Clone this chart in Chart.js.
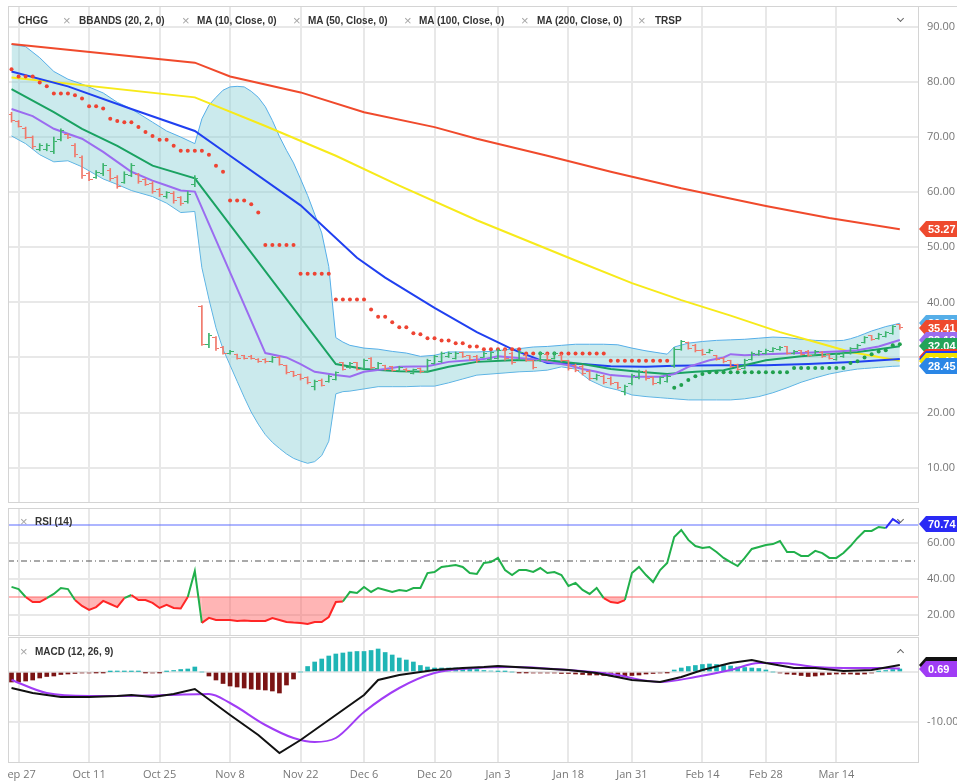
<!DOCTYPE html>
<html>
<head>
<meta charset="utf-8">
<title>CHGG</title>
<script src="https://cdn.jsdelivr.net/npm/chart.js@4.4.1/dist/chart.umd.min.js"></script>
<style>
  html, body { margin: 0; padding: 0; background: #fff; }
  body { position: relative; width: 957px; height: 782px; overflow: hidden; }
  #wrap { position: absolute; left: 7px; top: 0; width: 950px; height: 782px; overflow: hidden; }
  #wrap canvas { position: absolute; left: -7px; }
  .t { position: absolute; font: bold 10px "Liberation Sans", Arial, sans-serif; color: #333; white-space: nowrap; line-height: 12px; }
  .x { position: absolute; font: 13px "Liberation Sans", Arial, sans-serif; color: #a5a5a5; line-height: 12px; }
  .chev { position: absolute; width: 4px; height: 4px; border-right: 1.5px solid #666; border-bottom: 1.5px solid #666; }
</style>
</head>
<body>
<div id="wrap">
  <canvas id="price" width="957" height="508" style="top:0"></canvas>
  <canvas id="rsi" width="957" height="130" style="top:507px"></canvas>
  <canvas id="macd" width="957" height="146" style="top:636px"></canvas>
</div>

<div class="t" style="left:18px;top:15px">CHGG</div>
<div class="x" style="left:63px;top:15px">×</div>
<div class="t" style="left:79px;top:15px">BBANDS (20, 2, 0)</div>
<div class="x" style="left:182px;top:15px">×</div>
<div class="t" style="left:197px;top:15px">MA (10, Close, 0)</div>
<div class="x" style="left:293px;top:15px">×</div>
<div class="t" style="left:308px;top:15px">MA (50, Close, 0)</div>
<div class="x" style="left:404px;top:15px">×</div>
<div class="t" style="left:419px;top:15px">MA (100, Close, 0)</div>
<div class="x" style="left:521px;top:15px">×</div>
<div class="t" style="left:537px;top:15px">MA (200, Close, 0)</div>
<div class="x" style="left:638px;top:15px">×</div>
<div class="t" style="left:655px;top:15px">TRSP</div>
<div class="chev" style="left:898px;top:16px;transform:rotate(45deg)"></div>

<div class="x" style="left:20px;top:516px">×</div>
<div class="t" style="left:35px;top:516px">RSI (14)</div>
<div class="chev" style="left:898px;top:517px;transform:rotate(45deg)"></div>

<div class="x" style="left:20px;top:646px">×</div>
<div class="t" style="left:35px;top:646px">MACD (12, 26, 9)</div>
<div class="chev" style="left:898px;top:650px;transform:rotate(-135deg)"></div>

<script>
// x values are trading-day indices, Sep 24 2021 = 0 ... Mar 25 2022 = 126
const X_MIN = -0.5;
const X_MAX = 128.72;
const dateIdx = [1, 11, 21, 31, 41, 50, 60, 69, 79, 88, 98, 107, 117];
const dateLbl = ['Sep 27', 'Oct 11', 'Oct 25', 'Nov 8', 'Nov 22', 'Dec 6', 'Dec 20', 'Jan 3', 'Jan 18', 'Jan 31', 'Feb 14', 'Feb 28', 'Mar 14'];

const priceTicks = [10, 20, 30, 40, 50, 60, 70, 80, 90];
const rsiTicks = [20, 40, 60];
const macdTicks = [-10, 0];

const open = [74.0,72.8,71.6,70.0,67.8,67.8,67.4,69.5,70.5,68.5, 66.2,63.4,62.6,63.3,64.0,62.7,61.8,63.0,63.2,62.3,
  61.5,60.5,59.3,59.8,59.0,58.3,61.3,39.2,32.3,33.6, 31.8,30.8,30.5,30.3,30.2,29.7,29.6,29.3,30.0,28.5,
  27.4,26.9,26.4,24.8,25.9,25.6,26.0,29.0,28.1,29.0, 28.0,29.8,28.0,28.5,28.3,27.6,27.9,27.1,28.0,27.5,
  28.9,29.2,30.1,29.9,30.9,30.3,30.2,30.0,29.6,29.8, 31.3,30.8,29.6,30.4,29.4,29.5,30.6,29.8,30.4,29.4,
  28.6,28.4,27.5,26.1,26.6,26.2,25.4,23.9,25.2,26.3, 27.5,26.3,25.4,25.7,28.6,31.5,32.7,32.2,31.3,30.9,
  30.3,29.9,29.4,28.7,28.0,29.6,30.5,30.7,31.1,31.4, 31.9,30.7,31.2,31.1,30.4,30.9,30.5,29.6,30.1,30.7,
  31.6,32.7,33.9,33.4,33.8,34.3,35.9];
const high = [74.5,73.0,71.8,70.2,68.8,68.8,70.0,71.5,70.6,68.8, 66.6,63.7,63.9,65.2,64.3,63.0,63.7,65.2,63.4,62.5,
  61.9,60.7,60.1,60.1,59.2,60.1,63.0,39.4,34.4,33.8, 32.0,31.3,30.6,30.4,30.4,29.8,29.8,30.2,30.2,28.6,
  27.5,27.0,26.5,25.9,26.1,26.8,27.4,29.1,29.1,29.1, 29.7,30.0,29.1,28.6,28.4,28.4,28.0,27.9,28.1,29.7,
  30.4,31.0,31.0,31.0,31.0,30.4,30.4,31.0,31.0,31.5, 31.5,31.0,31.2,30.6,29.5,31.0,30.7,31.0,30.6,29.5,
  28.8,28.6,27.7,27.0,26.8,26.5,25.5,25.0,27.0,27.7, 27.7,26.5,26.5,26.8,31.8,33.1,32.8,32.4,31.5,31.5,
  30.4,30.0,29.5,28.8,29.7,31.0,31.3,31.5,31.8,32.0, 32.0,31.3,31.3,31.3,31.3,31.1,30.6,30.8,31.0,31.8,
  32.4,33.8,34.0,34.4,34.7,35.8,36.0];
const low = [72.7,71.8,69.7,67.9,67.5,67.5,67.0,69.3,69.7,66.4, 62.5,62.1,62.5,63.0,62.1,60.7,61.6,62.8,61.6,61.2,
  59.8,59.2,58.9,58.0,57.6,58.0,61.0,32.2,31.8,31.3, 30.6,30.6,29.7,29.7,29.7,29.1,29.0,29.1,28.6,27.0,
  26.5,25.9,25.2,24.1,24.8,25.5,25.9,27.7,28.0,27.7, 27.9,27.9,27.9,27.7,27.5,27.5,27.4,27.0,27.2,27.4,
  28.8,29.1,30.0,29.7,30.0,29.5,29.1,30.0,29.5,29.7, 29.5,28.8,29.5,29.3,27.9,29.3,29.5,29.7,29.3,27.7,
  27.4,26.8,25.9,25.9,25.2,25.0,24.3,23.2,25.0,26.1, 25.9,25.0,25.2,25.5,28.2,31.3,31.5,31.0,30.4,30.8,
  29.5,29.0,28.2,27.7,27.9,29.5,30.4,30.6,31.0,31.3, 30.6,30.6,30.4,30.2,30.4,30.0,29.7,29.5,30.0,30.6,
  31.5,32.6,33.1,33.3,33.7,34.2,35.1];
const close = [73.0,72.0,70.0,68.2,68.4,68.5,69.2,71.2,69.9,66.8, 63.0,62.3,63.6,64.9,62.5,61.0,63.2,64.8,62.0,61.4,
  60.2,59.5,59.9,58.4,58.0,59.6,62.5,32.4,34.0,31.6, 30.8,31.1,29.9,29.9,29.8,29.3,29.2,30.0,28.8,27.2,
  26.7,26.1,25.4,25.6,25.0,26.6,27.2,27.9,28.9,27.9, 29.5,28.1,28.9,27.9,27.7,28.2,27.6,27.8,27.4,29.5,
  30.2,30.8,30.8,30.8,30.2,29.7,29.4,30.8,30.9,31.3, 29.8,29.1,30.9,29.5,28.2,30.7,29.7,30.8,29.5,28.0,
  27.6,27.1,26.1,26.8,25.5,25.3,24.5,24.8,26.8,27.5, 26.1,25.3,26.3,26.6,31.5,32.9,31.7,31.2,30.6,31.3,
  29.7,29.2,28.4,27.9,29.5,30.8,31.1,31.3,31.6,31.8, 30.8,31.1,30.6,30.4,31.0,30.2,29.9,30.6,30.8,31.6,
  32.2,33.6,33.3,34.2,34.5,35.6,35.41];

// TRSP trailing stop dots
const trsp = [82.3,81.0,81.0,81.0,79.9,79.2,77.9,77.9,77.9,77.6, 77.0,75.6,75.6,75.2,73.3,72.9,72.7,72.7,71.8,70.9,
  70.2,69.5,69.5,68.4,67.5,67.5,67.5,67.5,66.8,64.8, 63.7,58.5,58.5,58.5,57.8,56.3,50.4,50.4,50.4,50.4,
  50.4,45.2,45.2,45.2,45.2,45.2,40.5,40.5,40.5,40.5, 40.5,38.7,37.4,37.4,36.4,35.5,35.5,34.4,34.2,33.5,
  33.5,33.1,33.1,32.6,32.6,32.0,32.0,31.5,31.5,31.5, 31.5,31.5,31.5,30.7,30.7,30.7,30.7,30.7,30.7,30.7,
  30.7,30.7,30.7,30.7,30.7,29.4,29.4,29.4,29.4,29.4, 29.4,29.4,29.4,29.4,24.5,25.0,25.9,26.6,27.0,27.3,
  27.3,27.3,27.3,27.3,27.3,27.3,27.3,27.3,27.3,27.3, 27.3,28.1,28.1,28.1,28.1,28.1,28.1,28.1,28.1,29.0,
  29.3,30.0,30.6,31.1,31.3,32.2,32.4];

// Bollinger bands (20, 2), [index, value]
const bbUpper = [[0,86.8],[2,86.4],[4,84.4],[6,81.9],[8,80.5],[10,79.6],[13,78.0],[15,76.3],[17,75.1],[20,72.7],[22,71.1],[24,70.0],[26,68.8],
  [27,73.3],[28,75.8],[29,77.2],[30,78.5],[31,79.1],[32,79.2],[33,79.1],[34,78.3],[35,77.2],[36,75.5],[37,73.0],[38,70.1],[39,67.6],
  [40,65.3],[41,62.4],[42,59.4],[43,56.0],[44,52.6],[45,46.5],[46,33.6],[47,32.8],[48,32.2],[50,31.7],[52,31.5],[54,31.1],[56,30.8],
  [58,30.2],[60,30.4],[62,31.0],[64,31.0],[66,31.0],[68,31.1],[70,31.4],[72,31.6],[74,31.9],[76,32.0],[78,32.2],[80,32.4],[82,32.4],
  [84,32.4],[86,32.3],[88,31.7],[90,31.2],[92,30.8],[93,30.6],[94,31.9],[96,32.6],[98,32.9],[100,33.1],[102,33.2],[104,33.3],[106,33.5],
  [108,33.7],[110,33.6],[112,33.3],[114,33.1],[116,33.0],[118,33.1],[119,33.4],[120,33.8],[121,34.3],[122,34.8],[123,35.2],[124,35.6],
  [125,35.9],[126,36.2]];
const bbLower = [[0,70.2],[2,68.8],[4,66.8],[6,65.5],[8,65.7],[10,64.6],[13,62.4],[15,61.4],[17,60.3],[20,59.2],[22,58.0],[24,56.3],[26,56.5],
  [27,46.3],[28,40.6],[29,35.4],[30,31.5],[31,28.6],[32,25.7],[33,22.8],[34,20.1],[35,17.9],[36,16.0],[37,14.6],[38,13.5],[39,12.5],
  [40,11.7],[41,11.2],[42,10.8],[43,11.1],[44,12.2],[45,14.8],[46,23.4],[47,23.8],[48,23.9],[50,24.3],[52,24.7],[54,24.7],[56,24.7],
  [58,24.8],[60,24.8],[62,25.4],[64,26.1],[66,26.8],[68,27.0],[70,27.2],[72,27.4],[74,27.5],[76,27.7],[78,28.3],[80,27.9],[82,25.9],
  [84,24.7],[86,24.1],[88,23.2],[90,22.9],[92,22.7],[93,22.6],[94,22.5],[96,22.3],[98,22.3],[100,22.3],[102,22.3],[104,22.5],[106,22.9],
  [108,23.6],[110,24.5],[112,25.5],[114,26.3],[116,27.0],[118,27.5],[119,27.7],[120,27.9],[121,28.0],[122,28.1],[123,28.2],[124,28.3],
  [125,28.4],[126,28.45]];
const bbMid = [[0,78.7],[6,74.5],[10,71.5],[15,68.4],[20,64.8],[26,62.5],[46,28.8],[50,27.9],[55,27.5],[59,27.4],[62,28.3],[66,29.2],
  [71,29.5],[76,29.5],[81,28.8],[85,27.9],[89,27.4],[93,27.0],[97,27.4],[101,27.7],[107,29.5],[112,30.2],[116,30.6],[120,31.0],
  [123,31.5],[126,32.04]];

// moving averages, [index, value]
const ma10 = [[0,75.1],[3,73.8],[6,71.5],[10,69.7],[13,67.3],[15,65.5],[17,63.7],[20,62.1],[22,61.2],[24,60.3],[26,60.1],[36,30.8],
  [39,30.0],[41,28.8],[43,27.4],[46,26.8],[48,26.5],[50,27.4],[53,27.9],[55,28.3],[59,28.4],[62,29.2],[65,29.5],[67,29.7],[69,30.2],
  [71,30.0],[74,29.7],[76,29.2],[79,28.6],[81,27.9],[83,27.4],[85,26.8],[88,26.5],[92,26.5],[94,27.0],[96,28.3],[99,29.5],[101,30.0],
  [102,30.6],[104,30.4],[107,30.6],[112,30.8],[117,31.1],[120,31.3],[123,32.0],[126,33.18]];
const ma50 = [[0,81.9],[8,79.2],[17,75.1],[26,71.1],[31,66.6],[41,57.6],[49,48.1],[53,44.5],[60,39.0],[66,34.6],[71,31.5],[76,29.0],
  [81,28.8],[85,28.4],[90,28.3],[94,28.5],[100,28.6],[107,28.6],[113,28.8],[120,29.2],[126,29.7]];
const ma100 = [[0,80.8],[26,77.2],[36,72.0],[46,66.6],[55,61.2],[66,54.9],[80,47.6],[88,43.5],[95,40.4],[102,37.6],[109,34.6],
  [114,32.8],[119,31.0],[126,29.4]];
const ma200 = [[0,86.9],[26,83.5],[31,81.0],[41,78.1],[50,74.5],[60,71.8],[66,69.7],[76,66.6],[85,63.7],[95,60.7],[107,57.5],
  [116,55.3],[126,53.27]];

const rsi = [35.6,34.4,30,27.2,27.2,29.4,31.7,35,34.4,28.3, 25,22.8,24.4,27.8,26.1,24.4,29.4,31.1,28.3,28.3,
  26.7,23.9,25.6,23.9,23.6,30,44.4,15.6,18.4,17.2, 17.2,17.2,16.7,16.9,16.7,16.6,16.7,18.3,17.2,16.1,
  15.8,15.6,15,16.1,16.1,18.9,27.2,27.5,32.8,32.2, 35.6,32.8,35,33.9,32.8,33.9,33.3,35,35,43.3,
  43.9,46.7,47.2,47.8,46.7,43.3,42.8,48.9,49.4,51.7, 45,42.2,45,45,43.9,46.1,43.3,43.9,42.2,36.1,
  37.8,33.9,31.7,35,29.4,27.2,26.7,28.3,43.3,46.7, 42.2,38.3,45,48.9,63.3,67.2,61.7,58.3,57.2,57.8,
  55,51.7,49.4,47.2,51.7,56.7,57.8,58.9,59.4,61.1, 55,55,52.8,52.8,55.6,54.4,51.7,51.7,54.4,58.3,
  62.8,66.7,66.7,68.9,68.3,73.3,70.74];
const rsiLevels = [70, 50, 30];

const macdHist = [-2.0,-2.0,-1.8,-1.6,-1.2,-0.9,-0.8,-0.5,-0.4,-0.3, -0.2,-0.2,-0.1,-0.1,0.05,0.1,0.1,0.1,0.1,-0.1,
  -0.2,-0.1,0.1,0.3,0.5,0.6,1.0,0,-0.8,-1.6, -2.3,-2.8,-3.0,-3.2,-3.4,-3.5,-3.6,-3.8,-4.2,-2.6,
  -1.4,0,1.1,2.0,2.6,3.2,3.6,3.8,4.0,4.1, 4.1,4.3,4.6,3.9,3.4,2.8,2.4,2.0,1.3,1.0,
  0.8,0.8,0.8,0.8,0.7,0.6,0.5,0.3,0.2,0.1, 0.1,0,-0.1,-0.1,-0.2,-0.2,-0.2,-0.2,-0.3,-0.3,
  -0.4,-0.5,-0.6,-0.6,-0.7,-0.8,-0.9,-0.9,-0.7,-0.6, -0.4,-0.3,-0.2,-0.1,0.4,0.8,1.1,1.3,1.5,1.6,
  1.5,1.4,1.2,1.0,0.9,0.8,0.7,0.4,0,-0.2, -0.4,-0.5,-0.7,-0.9,-0.8,-0.6,-0.5,-0.4,-0.4,-0.4,
  -0.5,-0.4,-0.2,0.1,0.3,0.5,0.6];
const macdLine = [[0,-3.2],[3,-4.2],[7,-5],[11,-5],[15,-4.8],[17,-4.6],[20,-5],[23,-4.4],[26,-3.4],[31,-8.6],[35,-12.6],[38,-16.2],
  [41,-13.6],[46,-8.6],[50,-4.6],[52,-1.6],[55,-0.6],[60,0.4],[64,0.8],[67,1.0],[69,1.2],[74,0.8],[79,0.4],[83,-0.2],[88,-1.6],
  [92,-2],[95,-1],[98,0.4],[102,1.8],[105,2.4],[107,1.8],[111,0.8],[114,0.8],[118,0.2],[122,0.4],[126,1.4]];
const signalLine = [[0,-1.6],[5,-4.2],[11,-4.8],[22,-4.6],[28,-4.4],[31,-6.2],[36,-10.6],[40,-13.2],[43,-14],[46,-13.2],[50,-8],
  [55,-3.2],[60,-0.2],[66,0.8],[71,1],[79,0.4],[85,-0.4],[92,-2],[97,-1],[102,0.4],[106,1.8],[109,1.8],[114,1],[118,0.8],[123,0.8],
  [126,0.69]];

const otherTag = 30.0; // red tag hidden under the stack on the right axis

const UP = '#3cb46e';
const DOWN = '#f0786a';
const GRID = '#e8e8e8';
const AXIS_TEXT = '#777';
const FONT = "'Open Sans', sans-serif";
const TAG_FONT = 'bold 11px "Liberation Sans", Arial, sans-serif';

Chart.defaults.font.family = FONT;

const pts = arr => arr.map(([x, y]) => ({x, y}));
const last = arr => arr[arr.length - 1][1];
const isUp = i => close[i] >= open[i];

function tickImage(color, side) {
  const c = document.createElement('canvas');
  c.width = 7;
  c.height = 1;
  const g = c.getContext('2d');
  g.fillStyle = color;
  g.fillRect(side < 0 ? 0 : 4, 0, 3, 1);
  return c;
}
const openUp = tickImage(UP, -1), openDown = tickImage(DOWN, -1);
const closeUp = tickImage(UP, 1), closeDown = tickImage(DOWN, 1);

const framePlugin = {
  id: 'frame',
  afterDraw(chart, args, opts) {
    const {ctx, chartArea: a} = chart;
    ctx.save();
    ctx.strokeStyle = '#d4d4d4';
    ctx.lineWidth = 1;
    ctx.strokeRect(a.left + 0.5, a.top + 0.5, a.right - a.left - 1, a.bottom - a.top - 1);
    if (opts.topFull) {
      ctx.beginPath();
      ctx.moveTo(a.right, a.top + 0.5);
      ctx.lineTo(chart.width, a.top + 0.5);
      ctx.stroke();
    }
    ctx.restore();
  }
};

const tagPlugin = {
  id: 'tags',
  afterDraw(chart, args, opts) {
    const {ctx} = chart;
    const y = chart.scales.y;
    const x0 = chart.chartArea.right;
    ctx.save();
    ctx.font = TAG_FONT;
    ctx.textBaseline = 'middle';
    for (const t of opts.list || []) {
      const py = Math.round(y.getPixelForValue(t.v));
      ctx.fillStyle = t.c;
      ctx.beginPath();
      ctx.moveTo(x0, py);
      ctx.lineTo(x0 + 7, py - 8);
      ctx.lineTo(x0 + 45, py - 8);
      ctx.lineTo(x0 + 45, py + 8);
      ctx.lineTo(x0 + 7, py + 8);
      ctx.closePath();
      ctx.fill();
      ctx.fillStyle = '#fff';
      ctx.fillText(t.v.toFixed(2), x0 + 9, py + 1);
    }
    ctx.restore();
  }
};

function panelOptions(yMin, yMax, yTicks, showX, padding, tags, topFull) {
  return {
    responsive: false,
    animation: false,
    events: [],
    layout: {padding},
    plugins: {
      legend: {display: false},
      tooltip: {enabled: false},
      tags: {list: tags},
      frame: {topFull: !!topFull}
    },
    scales: {
      x: {
        type: 'linear',
        min: X_MIN,
        max: X_MAX,
        offset: false,
        afterBuildTicks: s => { s.ticks = dateIdx.map(v => ({value: v})); },
        afterFit: s => {
          s.paddingLeft = 0;
          s.paddingRight = 0;
          s.height = showX ? 19 : 0;
        },
        grid: {color: GRID, lineWidth: 2, drawTicks: false, offset: false},
        border: {display: false},
        ticks: {
          display: showX,
          padding: 5,
          autoSkip: false,
          maxRotation: 0,
          color: AXIS_TEXT,
          font: {size: 11},
          callback: (v, i) => dateLbl[i]
        }
      },
      y: {
        position: 'right',
        min: yMin,
        max: yMax,
        afterBuildTicks: s => { s.ticks = yTicks.map(v => ({value: v})); },
        afterFit: s => {
          s.width = 38;
          s.paddingTop = 0;
          s.paddingBottom = 0;
        },
        grid: {color: GRID, lineWidth: 2, drawTicks: false},
        border: {display: false},
        ticks: {padding: 8, color: AXIS_TEXT, font: {size: 11}, callback: v => v.toFixed(2)}
      }
    }
  };
}

const idx = close.map((_, i) => i);
const lineDs = (data, color, width) => ({
  type: 'line',
  data: pts(data),
  borderColor: color,
  borderWidth: width,
  pointRadius: 0,
  tension: 0,
  fill: false
});

new Chart(document.getElementById('price'), {
  type: 'line',
  data: {
    datasets: [
      {
        type: 'scatter',
        data: idx.map(i => ({x: i, y: open[i]})),
        pointStyle: c => isUp(c.dataIndex) ? openUp : openDown,
        pointRadius: 3
      },
      {
        type: 'scatter',
        data: idx.map(i => ({x: i, y: close[i]})),
        pointStyle: c => isUp(c.dataIndex) ? closeUp : closeDown,
        pointRadius: 3
      },
      {
        type: 'bar',
        data: idx.map(i => ({x: i, y: [low[i], high[i]]})),
        backgroundColor: idx.map(i => isUp(i) ? UP : DOWN),
        barThickness: 1,
        grouped: false
      },
      {
        type: 'scatter',
        data: idx.map(i => ({x: i, y: trsp[i]})),
        pointRadius: 2,
        pointBorderWidth: 0,
        pointBackgroundColor: idx.map(i => trsp[i] > close[i] ? '#ee4433' : '#21a04e')
      },
      lineDs(ma10, '#9b6cf0', 2),
      lineDs(bbMid, '#1aa262', 2),
      lineDs(ma50, '#2040f0', 2),
      lineDs(ma100, '#f7ea1a', 2),
      lineDs(ma200, '#f04a2c', 2),
      Object.assign(lineDs(bbUpper, '#55aee8', 1), {fill: '+1', backgroundColor: 'rgba(130, 206, 212, 0.42)'}),
      lineDs(bbLower, '#55aee8', 1)
    ]
  },
  options: panelOptions(3.59, 93.78, priceTicks, false, {top: 6, bottom: 1, left: 8, right: 0}, [
    {v: last(ma200), c: '#ee4a2e'},
    {v: last(bbUpper), c: '#55aee8'},
    {v: close[close.length - 1], c: '#ee4a2e'},
    {v: last(ma10), c: '#9b6cf0'},
    {v: last(bbMid), c: '#22a45a'},
    {v: otherTag, c: '#ee3a2a'},
    {v: last(ma50), c: '#2040f0'},
    {v: last(ma100), c: '#f2e200'},
    {v: last(bbLower), c: '#2a86e6'}
  ], true),
  plugins: [framePlugin, tagPlugin]
});

const level = (v, color, dash) => ({
  type: 'line',
  data: [{x: X_MIN, y: v}, {x: X_MAX, y: v}],
  borderColor: color,
  borderWidth: 1.2,
  borderDash: dash || [],
  pointRadius: 0,
  fill: false
});

new Chart(document.getElementById('rsi'), {
  type: 'line',
  data: {
    datasets: [
      {
        data: idx.map(i => ({x: i, y: rsi[i]})),
        borderWidth: 2,
        pointRadius: 0,
        tension: 0,
        borderColor: '#21b04b',
        segment: {
          borderColor: c => {
            const m = (c.p0.parsed.y + c.p1.parsed.y) / 2;
            return m < 30 ? '#ff2626' : m > 70 ? '#2a2af5' : '#21b04b';
          }
        },
        fill: {target: {value: 30}, above: 'rgba(0,0,0,0)', below: 'rgba(255, 90, 90, 0.45)'}
      },
      level(rsiLevels[0], '#5d6cff'),
      level(rsiLevels[1], '#555', [6, 3, 1, 3]),
      level(rsiLevels[2], '#ff6f6f')
    ]
  },
  options: panelOptions(8.33, 79.44, rsiTicks, false, {top: 1, bottom: 1, left: 8, right: 0}, [
    {v: rsi[rsi.length - 1], c: '#2a2af5'}
  ]),
  plugins: [framePlugin, tagPlugin]
});

new Chart(document.getElementById('macd'), {
  type: 'line',
  data: {
    datasets: [
      lineDs(macdLine, '#111', 2),
      Object.assign(lineDs(signalLine, '#a03cf5', 2), {cubicInterpolationMode: 'monotone'}),
      {
        type: 'bar',
        data: idx.map(i => ({x: i, y: macdHist[i]})),
        backgroundColor: idx.map(i => macdHist[i] >= 0 ? '#1fb5b5' : '#7b1414'),
        barThickness: 4,
        grouped: false
      }
    ]
  },
  options: panelOptions(-18.2, 7.0, macdTicks, true, {top: 1, bottom: 0, left: 8, right: 0}, [
    {v: last(macdLine), c: '#111'},
    {v: last(signalLine), c: '#a03cf5'}
  ]),
  plugins: [framePlugin, tagPlugin]
});
</script>
</body>
</html>
